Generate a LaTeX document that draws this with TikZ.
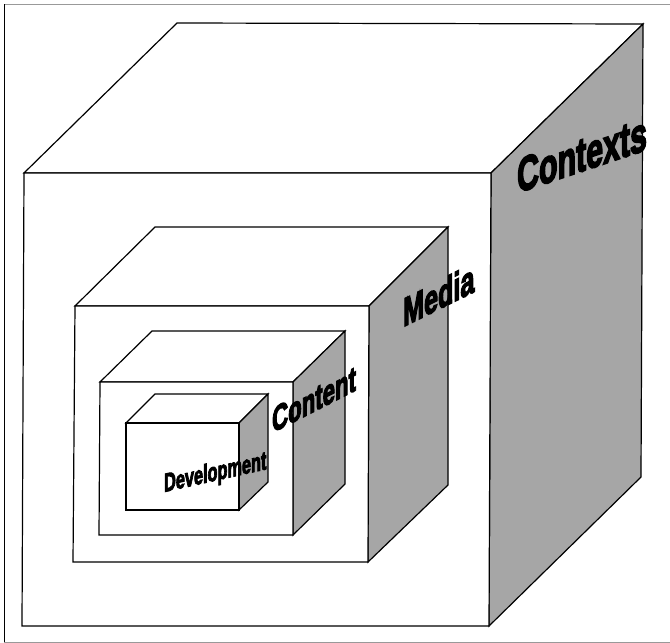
\documentclass[tikz,border=0pt]{standalone}
\usepackage{fontspec}
\newfontfamily\labelfont{Liberation Sans}[BoldFeatures={FakeBold=4}]
\tikzset{
  frontface/.style={very thick,fill=white},
  sideface/.style={very thick,fill=black!35},
  facelabel/.style={anchor=base west,inner sep=0pt,xscale=0.74,yscale=1.18}
}

\begin{document}
\begin{tikzpicture}[x=1pt,y=-1pt]

  \useasboundingbox (0,0) rectangle (670,643);

  % frame
  \draw[black!40] (4,4.5) -- (670,4.5);
  \draw[black!40] (4,642) -- (670,642);
  \draw[thick] (4.5,4) -- (4.5,642);

  % contexts cube
  \coordinate (XA) at (24,173);
  \coordinate (XB) at (491,173);
  \coordinate (XC) at (489,626);
  \coordinate (XD) at (22,626);
  \coordinate (XE) at (177,23);
  \coordinate (XF) at (643,24);
  \coordinate (XG) at (641,477);
  \draw[frontface] (XA) -- (XE) -- (XF) -- (XB) -- cycle;
  \draw[sideface] (XB) -- (XF) -- (XG) -- (XC) -- cycle;
  \draw[frontface] (XA) -- (XB) -- (XC) -- (XD) -- cycle;

  % media cube
  \coordinate (MA) at (75,306);
  \coordinate (MB) at (369,306);
  \coordinate (MC) at (368,562);
  \coordinate (MD) at (73,562);
  \coordinate (ME) at (155,227);
  \coordinate (MF) at (448,227);
  \coordinate (MG) at (448,485);
  \draw[frontface] (MA) -- (ME) -- (MF) -- (MB) -- cycle;
  \draw[sideface] (MB) -- (MF) -- (MG) -- (MC) -- cycle;
  \draw[frontface] (MA) -- (MB) -- (MC) -- (MD) -- cycle;

  % content cube
  \coordinate (CA) at (100,382);
  \coordinate (CB) at (293,382);
  \coordinate (CC) at (293,535);
  \coordinate (CD) at (99,535);
  \coordinate (CE) at (152,331);
  \coordinate (CF) at (345,331);
  \coordinate (CG) at (345,484);
  \draw[frontface] (CA) -- (CE) -- (CF) -- (CB) -- cycle;
  \draw[sideface] (CB) -- (CF) -- (CG) -- (CC) -- cycle;
  \draw[frontface] (CA) -- (CB) -- (CC) -- (CD) -- cycle;

  % development cube
  \coordinate (DA) at (126,423);
  \coordinate (DB) at (239,423);
  \coordinate (DC) at (239,510);
  \coordinate (DD) at (126,510);
  \coordinate (DE) at (155,394);
  \coordinate (DF) at (268,394);
  \coordinate (DG) at (268,482);
  \draw[frontface] (DA) -- (DE) -- (DF) -- (DB) -- cycle;
  \draw[sideface] (DB) -- (DF) -- (DG) -- (DC) -- cycle;
  \draw[frontface] (DA) -- (DB) -- (DC) -- (DD) -- cycle;

  % labels
  \node[facelabel,font=\fontsize{41}{41}\labelfont\bfseries,yslant=0.21] (contexts) at (517,193) {Contexts};
  \node[facelabel,font=\fontsize{34}{34}\labelfont\bfseries,yslant=0.31] (media) at (403,327) {Media};
  \node[facelabel,font=\fontsize{30}{30}\labelfont\bfseries,yslant=0.32] (content) at (272,433) {Content};
  \node[facelabel,font=\fontsize{22}{22}\labelfont\bfseries,yslant=0.14] (development) at (164,492) {Development};

\end{tikzpicture}
\end{document}
